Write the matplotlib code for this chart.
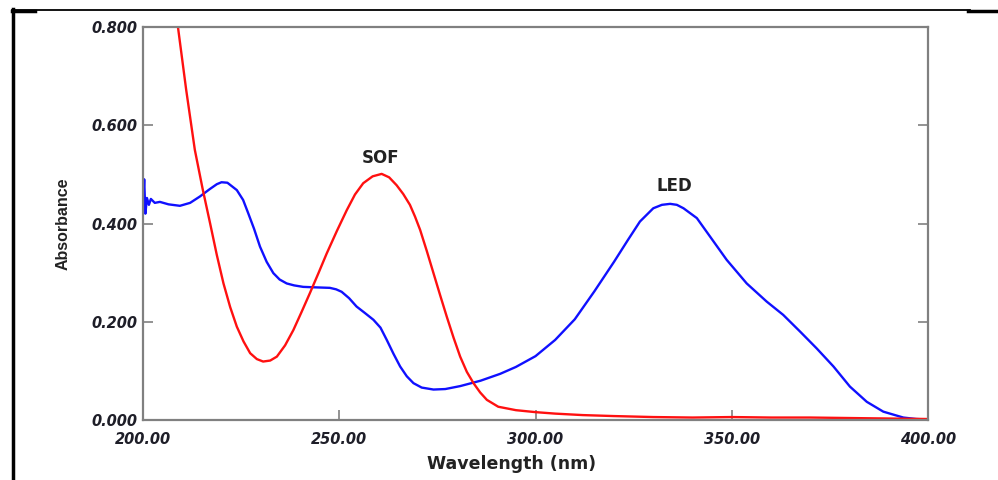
import matplotlib.pyplot as plt
from matplotlib.lines import Line2D

# LED (blue) spectrum, read at irregular wavelengths
led_wl = [200.0, 200.3, 200.6, 201.0, 201.5, 202.0, 203.0, 204.3, 206.5, 209.4,
          212.0, 214.5, 217.0, 218.8, 220.0, 221.5, 223.9, 225.5, 226.8, 228.3,
          229.8, 231.5, 233.2, 234.8, 236.6, 238.5, 240.8, 244.0, 247.6, 249.2,
          250.6, 252.5, 254.4, 256.5, 258.7, 260.5, 262.1, 263.8, 265.5, 267.2,
          268.9, 271.0, 274.0, 277.0, 280.8, 286.0, 291.0, 295.0, 300.0, 305.0,
          310.0, 315.0, 320.0, 323.5, 326.6, 330.0, 332.2, 334.3, 336.0, 337.7,
          341.1, 344.5, 348.7, 353.8, 358.9, 363.1, 367.4, 371.6, 375.9, 380.1,
          384.4, 388.6, 393.7, 397.0, 400.0]
led_abs = [0.440, 0.490, 0.420, 0.452, 0.438, 0.450, 0.442, 0.444, 0.439, 0.436,
           0.442, 0.455, 0.470, 0.480, 0.484, 0.483, 0.468, 0.448, 0.421, 0.389,
           0.353, 0.322, 0.299, 0.286, 0.278, 0.274, 0.271, 0.270, 0.269, 0.266,
           0.261, 0.248, 0.231, 0.218, 0.204, 0.188, 0.163, 0.135, 0.109, 0.089,
           0.075, 0.066, 0.062, 0.063, 0.069, 0.080, 0.094, 0.108, 0.130, 0.163,
           0.205, 0.262, 0.322, 0.366, 0.404, 0.431, 0.438, 0.440, 0.438, 0.431,
           0.411, 0.373, 0.326, 0.278, 0.241, 0.214, 0.180, 0.146, 0.109, 0.068,
           0.037, 0.017, 0.005, 0.002, 0.001]

# SOF (red) spectrum
sof_wl = [207.5, 208.9, 211.0, 213.2, 215.2, 217.1, 218.8, 220.5, 222.2, 223.9,
          225.6, 227.3, 229.0, 230.6, 232.4, 234.1, 236.2, 238.3, 240.4, 242.5,
          244.7, 246.8, 249.4, 251.9, 254.0, 256.1, 258.5, 260.8, 262.7, 264.6,
          266.3, 268.0, 269.3, 270.6, 272.3, 274.0, 275.7, 277.4, 279.1, 280.8,
          282.5, 284.2, 285.9, 287.6, 290.5, 295.0, 300.0, 305.0, 312.0, 320.0,
          330.0, 340.0, 350.0, 360.0, 370.0, 380.0, 390.0, 400.0]
sof_abs = [0.880, 0.800, 0.672, 0.550, 0.470, 0.400, 0.336, 0.278, 0.230, 0.190,
           0.160, 0.136, 0.124, 0.119, 0.121, 0.129, 0.152, 0.183, 0.220, 0.258,
           0.299, 0.339, 0.385, 0.427, 0.459, 0.482, 0.496, 0.501, 0.494, 0.478,
           0.460, 0.438, 0.414, 0.387, 0.344, 0.299, 0.254, 0.210, 0.168, 0.129,
           0.098, 0.075, 0.056, 0.041, 0.027, 0.020, 0.016, 0.013, 0.010, 0.008,
           0.006, 0.005, 0.006, 0.005, 0.005, 0.004, 0.003, 0.002]

xticks = [200, 250, 300, 350, 400]
yticks = [0.0, 0.2, 0.4, 0.6, 0.8]

fig = plt.figure(figsize=(9.98, 4.8), dpi=100)
ax = fig.add_axes([0.1433, 0.125, 0.7866, 0.81875])

ax.plot(led_wl, led_abs, color="#1010ff", lw=1.7, solid_joinstyle="round")
ax.plot(sof_wl, sof_abs, color="#ff1010", lw=1.7, solid_joinstyle="round")

ax.set_xlim(200, 400)
ax.set_ylim(0, 0.8)

tick_font = dict(family="DejaVu Sans", weight="bold", style="italic", size=10.5)
ax.set_xticks(xticks)
ax.set_xticklabels([f"{v:.2f}" for v in xticks], fontdict=tick_font, color="#1e1e28")
ax.set_yticks(yticks)
ax.set_yticklabels([f"{v:.3f}" for v in yticks], fontdict=tick_font, color="#1e1e28")

for s in ax.spines.values():
    s.set_color("#808080")
    s.set_linewidth(1.6)

ax.tick_params(axis="both", direction="in", length=7, width=1.2, color="#808080")
ax.tick_params(axis="x", pad=9)
ax.tick_params(axis="y", pad=4, right=True)

ax.set_xlabel("Wavelength (nm)", family="DejaVu Sans", weight="bold", size=12.5,
              color="#222222")
ax.xaxis.set_label_coords(0.469, -0.112)
ax.xaxis.label.set_va("center")
ax.set_ylabel("Absorbance", family="Liberation Sans", weight="bold", size=11.5,
              color="#222222")
ax.yaxis.set_label_coords(-0.102, 0.5)
ax.yaxis.label.set_va("center")

ax.text(260.6, 0.533, "SOF", ha="center", va="center", family="DejaVu Sans",
        weight="bold", size=12, color="#222222")
ax.text(335.3, 0.476, "LED", ha="center", va="center", family="DejaVu Sans",
        weight="bold", size=12, color="#222222")

# page frame lines
W, H = 998, 480
fig.add_artist(Line2D([13 / W, 13 / W], [0, 1 - 9 / H], color="black", lw=2.5))
fig.add_artist(Line2D([12 / W, 970 / W], [1 - 10 / H, 1 - 10 / H], color="black", lw=1.3))
fig.add_artist(Line2D([12 / W, 35 / W], [1 - 10.5 / H, 1 - 10.5 / H], color="black", lw=2.5))
fig.add_artist(Line2D([968 / W, 1.0], [1 - 10.5 / H, 1 - 10.5 / H], color="black", lw=2.5))

fig.savefig("out.png", dpi=100)
